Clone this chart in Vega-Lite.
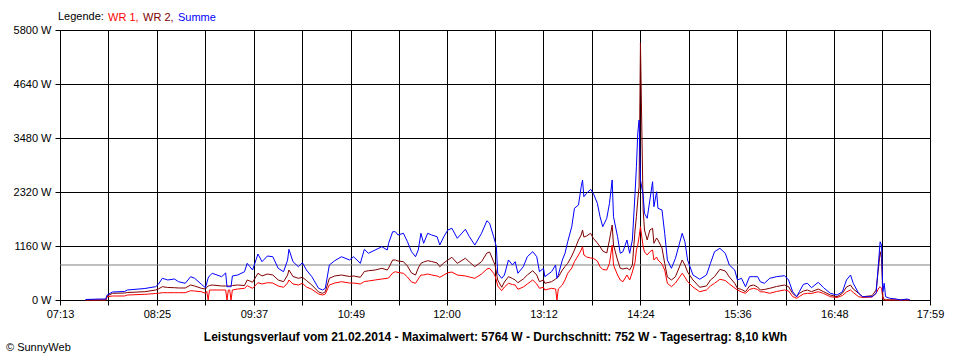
{
  "$schema": "https://vega.github.io/schema/vega-lite/v6.json",
  "width": 870,
  "height": 270,
  "autosize": "none",
  "padding": {"left": 60, "top": 30, "right": 30, "bottom": 60},
  "background": "white",
  "config": {
    "font": "Liberation Sans",
    "view": {"stroke": null},
    "axis": {
      "domainColor": "black", "tickColor": "black", "gridColor": "black", "gridOpacity": 1,
      "labelColor": "black", "labelFontSize": 11, "labelFont": "Liberation Sans",
      "tickSize": 5, "domainWidth": 1, "gridWidth": 1, "tickWidth": 1, "titleColor": "black"
    }
  },
  "title": {"text": "© SunnyWeb", "orient": "bottom", "anchor": "start", "frame": "group", "fontSize": 11, "fontWeight": "normal", "color": "black", "font": "Liberation Sans", "offset": 0, "dx": -54},
  "layer": [
    {
      "data": {"values": [{"avg": 752}]},
      "mark": {"type": "rule", "color": "#808080", "strokeWidth": 1},
      "encoding": {
        "y": {"field": "avg", "type": "quantitative", "axis": {"title": null}}
      }
    },
    {
      "data": {
        "format": {"parse": {"time": "date:'%H:%M'"}},
        "values": [
          {"time":"07:32","WR 1":0,"WR 2":0,"Summe":11},
          {"time":"07:43","WR 1":0,"WR 2":0,"Summe":21},
          {"time":"07:47","WR 1":0,"WR 2":0,"Summe":21},
          {"time":"07:48","WR 1":71,"WR 2":86,"Summe":107},
          {"time":"07:52","WR 1":86,"WR 2":144,"Summe":172},
          {"time":"08:01","WR 1":86,"WR 2":150,"Summe":183},
          {"time":"08:03","WR 1":107,"WR 2":161,"Summe":215},
          {"time":"08:16","WR 1":122,"WR 2":178,"Summe":247},
          {"time":"08:24","WR 1":140,"WR 2":215,"Summe":286},
          {"time":"08:26","WR 1":144,"WR 2":236,"Summe":337},
          {"time":"08:29","WR 1":157,"WR 2":286,"Summe":466},
          {"time":"08:33","WR 1":157,"WR 2":269,"Summe":430},
          {"time":"08:38","WR 1":157,"WR 2":264,"Summe":451},
          {"time":"08:41","WR 1":157,"WR 2":258,"Summe":393},
          {"time":"08:46","WR 1":157,"WR 2":258,"Summe":359},
          {"time":"08:50","WR 1":200,"WR 2":322,"Summe":501},
          {"time":"08:53","WR 1":193,"WR 2":301,"Summe":466},
          {"time":"08:58","WR 1":178,"WR 2":251,"Summe":337},
          {"time":"09:01","WR 1":144,"WR 2":236,"Summe":264},
          {"time":"09:02","WR 1":183,"WR 2":269,"Summe":365},
          {"time":"09:03","WR 1":0,"WR 2":301,"Summe":473},
          {"time":"09:04","WR 1":215,"WR 2":311,"Summe":516},
          {"time":"09:06","WR 1":215,"WR 2":322,"Summe":574},
          {"time":"09:13","WR 1":215,"WR 2":301,"Summe":501},
          {"time":"09:16","WR 1":215,"WR 2":301,"Summe":580},
          {"time":"09:17","WR 1":0,"WR 2":301,"Summe":286},
          {"time":"09:18","WR 1":215,"WR 2":301,"Summe":286},
          {"time":"09:19","WR 1":215,"WR 2":301,"Summe":286},
          {"time":"09:20","WR 1":0,"WR 2":301,"Summe":286},
          {"time":"09:21","WR 1":215,"WR 2":311,"Summe":516},
          {"time":"09:25","WR 1":236,"WR 2":322,"Summe":537},
          {"time":"09:30","WR 1":251,"WR 2":311,"Summe":608},
          {"time":"09:32","WR 1":307,"WR 2":430,"Summe":788},
          {"time":"09:34","WR 1":279,"WR 2":408,"Summe":715},
          {"time":"09:36","WR 1":251,"WR 2":380,"Summe":644},
          {"time":"09:40","WR 1":372,"WR 2":574,"Summe":988},
          {"time":"09:43","WR 1":344,"WR 2":516,"Summe":823},
          {"time":"09:47","WR 1":372,"WR 2":558,"Summe":945},
          {"time":"09:51","WR 1":365,"WR 2":537,"Summe":930},
          {"time":"09:55","WR 1":301,"WR 2":430,"Summe":681},
          {"time":"09:59","WR 1":273,"WR 2":393,"Summe":608},
          {"time":"10:02","WR 1":365,"WR 2":537,"Summe":859},
          {"time":"10:03","WR 1":430,"WR 2":644,"Summe":1089},
          {"time":"10:06","WR 1":344,"WR 2":505,"Summe":823},
          {"time":"10:10","WR 1":322,"WR 2":466,"Summe":715},
          {"time":"10:13","WR 1":359,"WR 2":488,"Summe":801},
          {"time":"10:16","WR 1":279,"WR 2":419,"Summe":644},
          {"time":"10:20","WR 1":230,"WR 2":322,"Summe":501},
          {"time":"10:25","WR 1":129,"WR 2":172,"Summe":251},
          {"time":"10:28","WR 1":107,"WR 2":144,"Summe":215},
          {"time":"10:30","WR 1":129,"WR 2":178,"Summe":251},
          {"time":"10:33","WR 1":322,"WR 2":466,"Summe":752},
          {"time":"10:37","WR 1":365,"WR 2":516,"Summe":844},
          {"time":"10:42","WR 1":393,"WR 2":537,"Summe":930},
          {"time":"10:48","WR 1":365,"WR 2":505,"Summe":859},
          {"time":"10:51","WR 1":365,"WR 2":516,"Summe":930},
          {"time":"10:56","WR 1":344,"WR 2":488,"Summe":788},
          {"time":"10:59","WR 1":397,"WR 2":612,"Summe":1089},
          {"time":"11:02","WR 1":408,"WR 2":629,"Summe":1003},
          {"time":"11:07","WR 1":430,"WR 2":644,"Summe":1074},
          {"time":"11:12","WR 1":451,"WR 2":681,"Summe":1145},
          {"time":"11:16","WR 1":466,"WR 2":644,"Summe":1074},
          {"time":"11:17","WR 1":473,"WR 2":687,"Summe":1218},
          {"time":"11:20","WR 1":580,"WR 2":859,"Summe":1467},
          {"time":"11:22","WR 1":608,"WR 2":859,"Summe":1467},
          {"time":"11:24","WR 1":591,"WR 2":838,"Summe":1396},
          {"time":"11:28","WR 1":574,"WR 2":823,"Summe":1433},
          {"time":"11:31","WR 1":494,"WR 2":730,"Summe":1252},
          {"time":"11:34","WR 1":387,"WR 2":580,"Summe":1038},
          {"time":"11:37","WR 1":359,"WR 2":537,"Summe":930},
          {"time":"11:39","WR 1":451,"WR 2":687,"Summe":1074},
          {"time":"11:41","WR 1":537,"WR 2":788,"Summe":1433},
          {"time":"11:43","WR 1":537,"WR 2":816,"Summe":1218},
          {"time":"11:46","WR 1":558,"WR 2":844,"Summe":1433},
          {"time":"11:49","WR 1":537,"WR 2":827,"Summe":1396},
          {"time":"11:53","WR 1":516,"WR 2":795,"Summe":1360},
          {"time":"11:55","WR 1":488,"WR 2":715,"Summe":1181},
          {"time":"11:58","WR 1":537,"WR 2":795,"Summe":1360},
          {"time":"12:01","WR 1":586,"WR 2":859,"Summe":1504},
          {"time":"12:04","WR 1":601,"WR 2":917,"Summe":1540},
          {"time":"12:08","WR 1":537,"WR 2":788,"Summe":1325},
          {"time":"12:14","WR 1":516,"WR 2":896,"Summe":1519},
          {"time":"12:17","WR 1":494,"WR 2":816,"Summe":1360},
          {"time":"12:21","WR 1":466,"WR 2":715,"Summe":1181},
          {"time":"12:26","WR 1":558,"WR 2":823,"Summe":1433},
          {"time":"12:30","WR 1":666,"WR 2":1010,"Summe":1703},
          {"time":"12:32","WR 1":681,"WR 2":1031,"Summe":1648},
          {"time":"12:35","WR 1":574,"WR 2":823,"Summe":1360},
          {"time":"12:36","WR 1":516,"WR 2":752,"Summe":1252},
          {"time":"12:37","WR 1":430,"WR 2":601,"Summe":1145},
          {"time":"12:38","WR 1":301,"WR 2":430,"Summe":574},
          {"time":"12:41","WR 1":200,"WR 2":273,"Summe":466},
          {"time":"12:43","WR 1":279,"WR 2":387,"Summe":537},
          {"time":"12:46","WR 1":359,"WR 2":501,"Summe":859},
          {"time":"12:49","WR 1":333,"WR 2":462,"Summe":752},
          {"time":"12:51","WR 1":322,"WR 2":430,"Summe":823},
          {"time":"12:53","WR 1":230,"WR 2":372,"Summe":574},
          {"time":"12:57","WR 1":279,"WR 2":451,"Summe":715},
          {"time":"13:00","WR 1":344,"WR 2":537,"Summe":930},
          {"time":"13:04","WR 1":430,"WR 2":629,"Summe":1038},
          {"time":"13:07","WR 1":344,"WR 2":537,"Summe":930},
          {"time":"13:09","WR 1":251,"WR 2":393,"Summe":608},
          {"time":"13:12","WR 1":273,"WR 2":430,"Summe":681},
          {"time":"13:13","WR 1":215,"WR 2":359,"Summe":501},
          {"time":"13:18","WR 1":251,"WR 2":393,"Summe":608},
          {"time":"13:21","WR 1":236,"WR 2":451,"Summe":752},
          {"time":"13:22","WR 1":0,"WR 2":473,"Summe":466},
          {"time":"13:23","WR 1":236,"WR 2":494,"Summe":537},
          {"time":"13:26","WR 1":322,"WR 2":644,"Summe":859},
          {"time":"13:28","WR 1":430,"WR 2":720,"Summe":1003},
          {"time":"13:30","WR 1":574,"WR 2":788,"Summe":1252},
          {"time":"13:33","WR 1":687,"WR 2":945,"Summe":1575},
          {"time":"13:35","WR 1":823,"WR 2":1074,"Summe":1970},
          {"time":"13:38","WR 1":967,"WR 2":1289,"Summe":2041},
          {"time":"13:40","WR 1":1074,"WR 2":1396,"Summe":2434},
          {"time":"13:41","WR 1":1145,"WR 2":1504,"Summe":2578},
          {"time":"13:42","WR 1":967,"WR 2":1353,"Summe":2219},
          {"time":"13:44","WR 1":924,"WR 2":1375,"Summe":2292},
          {"time":"13:47","WR 1":902,"WR 2":1433,"Summe":2378},
          {"time":"13:49","WR 1":896,"WR 2":1325,"Summe":2292},
          {"time":"13:52","WR 1":838,"WR 2":1224,"Summe":2077},
          {"time":"13:54","WR 1":715,"WR 2":1145,"Summe":1789},
          {"time":"13:56","WR 1":655,"WR 2":1053,"Summe":1575},
          {"time":"13:59","WR 1":644,"WR 2":1010,"Summe":1755},
          {"time":"14:01","WR 1":788,"WR 2":1289,"Summe":2077},
          {"time":"14:03","WR 1":1181,"WR 2":1611,"Summe":2578},
          {"time":"14:04","WR 1":752,"WR 2":1181,"Summe":1789},
          {"time":"14:07","WR 1":537,"WR 2":859,"Summe":1360},
          {"time":"14:09","WR 1":430,"WR 2":681,"Summe":1003},
          {"time":"14:11","WR 1":393,"WR 2":666,"Summe":1038},
          {"time":"14:14","WR 1":537,"WR 2":687,"Summe":1289},
          {"time":"14:16","WR 1":430,"WR 2":644,"Summe":1003},
          {"time":"14:18","WR 1":601,"WR 2":752,"Summe":1289},
          {"time":"14:20","WR 1":816,"WR 2":1504,"Summe":2292},
          {"time":"14:21","WR 1":1074,"WR 2":1789,"Summe":2863},
          {"time":"14:22","WR 1":1181,"WR 2":2148,"Summe":3581},
          {"time":"14:23","WR 1":1360,"WR 2":2434,"Summe":3867},
          {"time":"14:24","WR 1":1575,"WR 2":5521,"Summe":2578},
          {"time":"14:26","WR 1":1145,"WR 2":1933,"Summe":2256},
          {"time":"14:27","WR 1":1031,"WR 2":1504,"Summe":1862},
          {"time":"14:29","WR 1":967,"WR 2":1289,"Summe":1755},
          {"time":"14:31","WR 1":1038,"WR 2":1504,"Summe":2148},
          {"time":"14:33","WR 1":1074,"WR 2":1540,"Summe":2541},
          {"time":"14:34","WR 1":859,"WR 2":1218,"Summe":2004},
          {"time":"14:36","WR 1":924,"WR 2":1332,"Summe":2326},
          {"time":"14:37","WR 1":859,"WR 2":1289,"Summe":1970},
          {"time":"14:40","WR 1":773,"WR 2":1117,"Summe":1933},
          {"time":"14:42","WR 1":644,"WR 2":788,"Summe":1433},
          {"time":"14:44","WR 1":359,"WR 2":494,"Summe":859},
          {"time":"14:47","WR 1":286,"WR 2":430,"Summe":681},
          {"time":"14:50","WR 1":365,"WR 2":501,"Summe":896},
          {"time":"14:55","WR 1":574,"WR 2":859,"Summe":1433},
          {"time":"14:57","WR 1":494,"WR 2":752,"Summe":1252},
          {"time":"14:59","WR 1":393,"WR 2":601,"Summe":859},
          {"time":"15:03","WR 1":279,"WR 2":430,"Summe":537},
          {"time":"15:08","WR 1":178,"WR 2":273,"Summe":445},
          {"time":"15:13","WR 1":215,"WR 2":301,"Summe":537},
          {"time":"15:16","WR 1":301,"WR 2":430,"Summe":788},
          {"time":"15:19","WR 1":359,"WR 2":501,"Summe":1038},
          {"time":"15:23","WR 1":445,"WR 2":659,"Summe":1111},
          {"time":"15:27","WR 1":419,"WR 2":623,"Summe":1003},
          {"time":"15:30","WR 1":344,"WR 2":494,"Summe":752},
          {"time":"15:34","WR 1":258,"WR 2":359,"Summe":644},
          {"time":"15:36","WR 1":215,"WR 2":251,"Summe":430},
          {"time":"15:39","WR 1":172,"WR 2":226,"Summe":466},
          {"time":"15:42","WR 1":144,"WR 2":178,"Summe":286},
          {"time":"15:45","WR 1":226,"WR 2":301,"Summe":501},
          {"time":"15:48","WR 1":251,"WR 2":322,"Summe":501},
          {"time":"15:51","WR 1":226,"WR 2":279,"Summe":501},
          {"time":"15:53","WR 1":178,"WR 2":215,"Summe":393},
          {"time":"15:56","WR 1":172,"WR 2":226,"Summe":359},
          {"time":"16:00","WR 1":144,"WR 2":251,"Summe":466},
          {"time":"16:05","WR 1":183,"WR 2":290,"Summe":501},
          {"time":"16:11","WR 1":215,"WR 2":322,"Summe":522},
          {"time":"16:14","WR 1":193,"WR 2":286,"Summe":430},
          {"time":"16:17","WR 1":75,"WR 2":140,"Summe":178},
          {"time":"16:20","WR 1":37,"WR 2":71,"Summe":71},
          {"time":"16:22","WR 1":75,"WR 2":144,"Summe":178},
          {"time":"16:25","WR 1":129,"WR 2":193,"Summe":337},
          {"time":"16:28","WR 1":144,"WR 2":215,"Summe":359},
          {"time":"16:31","WR 1":140,"WR 2":178,"Summe":264},
          {"time":"16:36","WR 1":178,"WR 2":236,"Summe":380},
          {"time":"16:40","WR 1":140,"WR 2":178,"Summe":264},
          {"time":"16:45","WR 1":71,"WR 2":107,"Summe":144},
          {"time":"16:50","WR 1":54,"WR 2":71,"Summe":107},
          {"time":"16:54","WR 1":97,"WR 2":144,"Summe":178},
          {"time":"16:57","WR 1":172,"WR 2":279,"Summe":430},
          {"time":"17:00","WR 1":215,"WR 2":322,"Summe":537},
          {"time":"17:02","WR 1":161,"WR 2":236,"Summe":359},
          {"time":"17:06","WR 1":71,"WR 2":144,"Summe":144},
          {"time":"17:09","WR 1":54,"WR 2":71,"Summe":71},
          {"time":"17:16","WR 1":64,"WR 2":92,"Summe":71},
          {"time":"17:19","WR 1":144,"WR 2":215,"Summe":144},
          {"time":"17:21","WR 1":258,"WR 2":752,"Summe":896},
          {"time":"17:22","WR 1":286,"WR 2":1038,"Summe":1252},
          {"time":"17:23","WR 1":251,"WR 2":896,"Summe":1181},
          {"time":"17:24","WR 1":37,"WR 2":71,"Summe":178},
          {"time":"17:25","WR 1":0,"WR 2":11,"Summe":359},
          {"time":"17:26","WR 1":0,"WR 2":0,"Summe":71},
          {"time":"17:29","WR 1":0,"WR 2":0,"Summe":37},
          {"time":"17:34","WR 1":0,"WR 2":0,"Summe":21},
          {"time":"17:37","WR 1":0,"WR 2":0,"Summe":0},
          {"time":"17:42","WR 1":0,"WR 2":0,"Summe":21},
          {"time":"17:44","WR 1":0,"WR 2":0,"Summe":0}
        ]
      },
      "transform": [{"fold": ["WR 1", "WR 2", "Summe"], "as": ["serie", "watt"]}],
      "mark": {"type": "line", "strokeWidth": 1, "interpolate": "linear"},
      "encoding": {
        "x": {
          "field": "time", "type": "temporal",
          "scale": {"nice": false, "domain": [
            {"year": 1900, "month": 1, "date": 1, "hours": 7, "minutes": 13},
            {"year": 1900, "month": 1, "date": 1, "hours": 17, "minutes": 59}
          ]},
          "axis": {
            "values": [
              {"year": 1900, "month": 1, "date": 1, "hours": 7, "minutes": 13},
              {"year": 1900, "month": 1, "date": 1, "hours": 7, "minutes": 49},
              {"year": 1900, "month": 1, "date": 1, "hours": 8, "minutes": 25},
              {"year": 1900, "month": 1, "date": 1, "hours": 9, "minutes": 1},
              {"year": 1900, "month": 1, "date": 1, "hours": 9, "minutes": 37},
              {"year": 1900, "month": 1, "date": 1, "hours": 10, "minutes": 13},
              {"year": 1900, "month": 1, "date": 1, "hours": 10, "minutes": 49},
              {"year": 1900, "month": 1, "date": 1, "hours": 11, "minutes": 24, "seconds": 30},
              {"year": 1900, "month": 1, "date": 1, "hours": 12, "minutes": 0},
              {"year": 1900, "month": 1, "date": 1, "hours": 12, "minutes": 36},
              {"year": 1900, "month": 1, "date": 1, "hours": 13, "minutes": 12},
              {"year": 1900, "month": 1, "date": 1, "hours": 13, "minutes": 48},
              {"year": 1900, "month": 1, "date": 1, "hours": 14, "minutes": 24},
              {"year": 1900, "month": 1, "date": 1, "hours": 15, "minutes": 0},
              {"year": 1900, "month": 1, "date": 1, "hours": 15, "minutes": 36},
              {"year": 1900, "month": 1, "date": 1, "hours": 16, "minutes": 12},
              {"year": 1900, "month": 1, "date": 1, "hours": 16, "minutes": 48},
              {"year": 1900, "month": 1, "date": 1, "hours": 17, "minutes": 23, "seconds": 30},
              {"year": 1900, "month": 1, "date": 1, "hours": 17, "minutes": 59}
            ],
            "grid": true,
            "labelExpr": "indexof(['07:13','08:25','09:37','10:49','12:00','13:12','14:24','15:36','16:48','17:59'], timeFormat(datum.value, '%H:%M')) >= 0 ? timeFormat(datum.value, '%H:%M') : ''",
            "labelAngle": 0,
            "labelOverlap": false,
            "labelFlush": false,
            "labelPadding": 3,
            "title": "Leistungsverlauf vom 21.02.2014 - Maximalwert: 5764 W - Durchschnitt: 752 W - Tagesertrag: 8,10 kWh",
            "titleFontSize": 12,
            "titleFontWeight": "bold",
            "titleFont": "Liberation Sans",
            "titlePadding": 12
          }
        },
        "y": {
          "field": "watt", "type": "quantitative",
          "scale": {"domain": [0, 5800], "nice": false},
          "axis": {
            "values": [0, 1160, 2320, 3480, 4640, 5800],
            "labelExpr": "datum.value + ' W'",
            "grid": true,
            "title": null,
            "labelPadding": 4
          }
        },
        "color": {
          "field": "serie", "type": "nominal",
          "scale": {"domain": ["WR 1", "WR 2", "Summe"], "range": ["#ff0000", "#800000", "#0000ff"]},
          "legend": {
            "title": "Legende:",
            "orient": "none",
            "legendX": -2,
            "legendY": -18,
            "direction": "horizontal",
            "titleOrient": "left",
            "titleFontWeight": "normal",
            "titleFontSize": 11,
            "titleFont": "Liberation Sans",
            "titleColor": "black",
            "titlePadding": 2,
            "labelFontSize": 11,
            "labelFont": "Liberation Sans",
            "symbolSize": 0,
            "symbolStrokeWidth": 0,
            "symbolOpacity": 0,
            "labelOffset": -9,
            "columnPadding": 2,
            "labelExpr": "datum.label == 'Summe' ? datum.label : datum.label + ','",
            "encode": {"labels": {"update": {"fill": {"scale": "color", "field": "value"}}}}
          }
        }
      }
    }
  ]
}
